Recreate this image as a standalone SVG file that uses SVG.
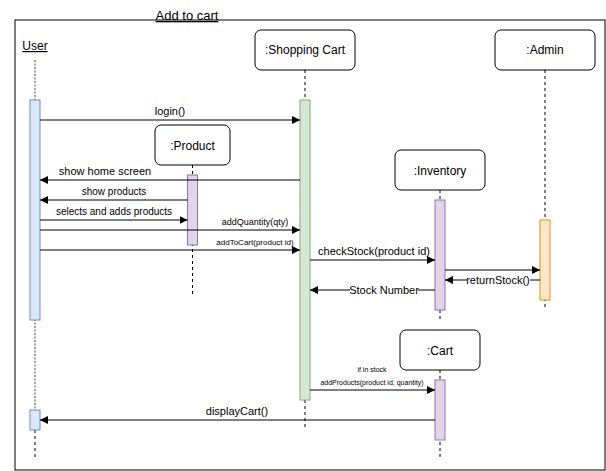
<svg xmlns="http://www.w3.org/2000/svg" width="606" height="471" viewBox="0 0 606 471">
<style>
text{font-family:"Liberation Sans",Arial,Helvetica,sans-serif;fill:#000}
.box{fill:#fff;stroke:#000;stroke-width:1}
.life{stroke:#000;stroke-width:1;stroke-dasharray:3 3;fill:none}
.msg{stroke:#000;stroke-width:1;fill:none;marker-end:url(#ah)}
.lbl{font-size:11px;text-anchor:middle}
.md{font-size:10px;text-anchor:middle}
.sm{font-size:9px;text-anchor:middle}
.xs{font-size:7px;text-anchor:middle}
.nl{font-size:12px;text-anchor:middle}
.blue{fill:#dae8fc;stroke:#6c8ebf}
.green{fill:#d5e8d4;stroke:#82b366}
.purple{fill:#e1d5e7;stroke:#9673a6}
.orange{fill:#ffe6cc;stroke:#d79b00}
</style>
<defs>
<marker id="ah" viewBox="0 0 10 10" refX="10" refY="5" markerWidth="8" markerHeight="8" markerUnits="userSpaceOnUse" orient="auto">
<path d="M0,0 L10,5 L0,10 z" fill="#000"/>
</marker>
</defs>
<rect x="15" y="20" width="590" height="450" fill="#fff" stroke="#000" stroke-width="1"/>
<text x="187" y="20" font-size="13" text-anchor="middle" text-decoration="underline">Add to cart</text>

<g id="user">
<text x="35" y="50" font-size="12" text-anchor="middle" text-decoration="underline">User</text>
<line x1="35" y1="60" x2="35" y2="430" style="stroke:#666;stroke-width:1.2;stroke-dasharray:2 1.5"/>
<line x1="35" y1="430" x2="35" y2="460" class="life"/>
<rect x="30" y="100" width="10" height="220" class="blue"/>
<rect x="30" y="410" width="10" height="20" class="blue"/>
</g>

<g id="shoppingcart">
<line x1="305" y1="70" x2="305" y2="430" class="life"/>
<rect x="255" y="30" width="100" height="40" rx="6" class="box"/>
<text x="305" y="54" class="nl">:Shopping Cart</text>
<rect x="300" y="100" width="10" height="300" class="green"/>
</g>

<g id="admin">
<line x1="545" y1="70" x2="545" y2="310" class="life"/>
<rect x="495" y="30" width="100" height="40" rx="6" class="box"/>
<text x="545" y="54" class="nl">:Admin</text>
<rect x="540" y="220" width="10" height="80" class="orange"/>
</g>

<g id="product">
<line x1="192.5" y1="165" x2="192.5" y2="295" class="life"/>
<rect x="155" y="125" width="75" height="40" rx="6" class="box"/>
<text x="192.5" y="150" class="nl">:Product</text>
<rect x="187.5" y="175" width="10" height="70" class="purple"/>
</g>

<g id="inventory">
<line x1="440" y1="190" x2="440" y2="320" class="life"/>
<rect x="395" y="150" width="90" height="40" rx="6" class="box"/>
<text x="440" y="175" class="nl">:Inventory</text>
<rect x="435" y="200" width="10" height="110" class="purple"/>
</g>

<g id="cart">
<line x1="440" y1="370" x2="440" y2="460" class="life"/>
<rect x="400" y="330" width="80" height="40" rx="6" class="box"/>
<text x="440" y="355" class="nl">:Cart</text>
<rect x="435" y="380" width="10" height="60" class="purple"/>
</g>

<g id="connectors">
<line x1="40" y1="120" x2="300" y2="120" class="msg"/>
<text x="170" y="115" class="lbl">login()</text>

<line x1="300" y1="180" x2="40" y2="180" class="msg"/>
<text x="105" y="175" class="lbl">show home screen</text>

<line x1="187.5" y1="200" x2="40" y2="200" class="msg"/>
<text x="114" y="195" class="md">show products</text>

<line x1="40" y1="220" x2="187.5" y2="220" class="msg"/>
<text x="114" y="215" class="md">selects and adds products</text>

<line x1="40" y1="230" x2="300" y2="230" class="msg"/>
<text x="255" y="225" class="sm">addQuantity(qty)</text>

<line x1="40" y1="250" x2="300" y2="250" class="msg"/>
<text x="255" y="245" font-size="8" text-anchor="middle">addToCart(product id)</text>

<line x1="310" y1="260" x2="435" y2="260" class="msg"/>
<text x="374" y="255" class="lbl">checkStock(product id)</text>

<line x1="445" y1="270" x2="540" y2="270" class="msg"/>

<line x1="540" y1="280" x2="445" y2="280" class="msg"/>
<rect x="467" y="275" width="63" height="11" fill="#fff"/>
<text x="498" y="284" class="lbl">returnStock()</text>

<line x1="435" y1="290" x2="310" y2="290" class="msg"/>
<rect x="350" y="285" width="68" height="11" fill="#fff"/>
<text x="384" y="294" class="lbl">Stock Number</text>

<text x="372" y="372" class="xs">if in stock</text>
<line x1="310" y1="390" x2="435" y2="390" class="msg"/>
<text x="372" y="385" font-size="7" text-anchor="middle">addProducts(product id, quantity)</text>

<line x1="435" y1="420" x2="40" y2="420" class="msg"/>
<text x="237" y="415" class="lbl">displayCart()</text>
</g>
</svg>
